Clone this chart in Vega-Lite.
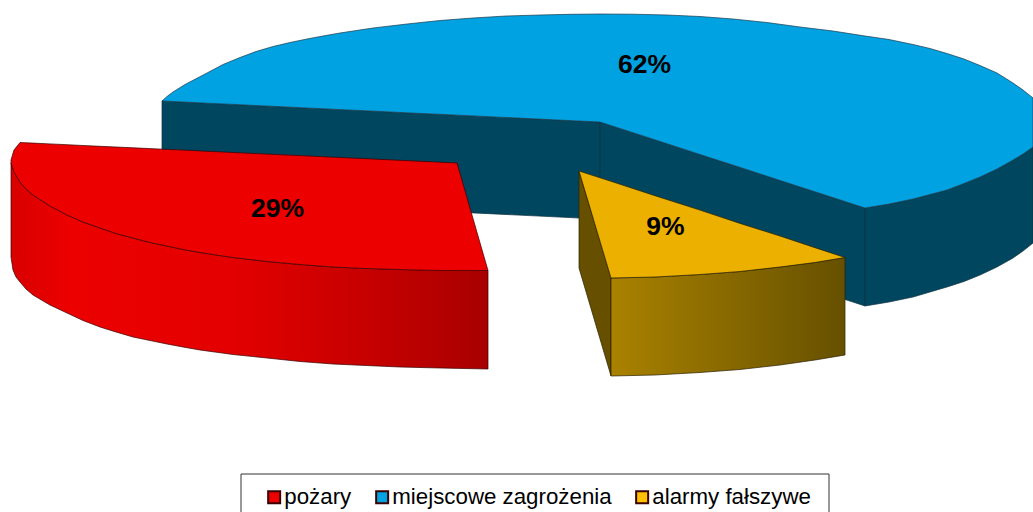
{
"$schema":"https://vega.github.io/schema/vega-lite/v6.json",
"width":1033,"height":512,"padding":0,"autosize":{"type":"none"},
"background":"white",
"config":{"view":{"stroke":null}},
"datasets":{
"faces":[
{"face":"blue_left","x":162,"y":101,"y2":198},{"face":"blue_left","x":600,"y":122,"y2":219},
{"face":"blue_mid","x":600,"y":122,"y2":219},{"face":"blue_mid","x":865,"y":208,"y2":306},
{"face":"blue_outer","x":865,"y":208,"y2":306},{"face":"blue_outer","x":889,"y":204,"y2":302},{"face":"blue_outer","x":913,"y":199,"y2":297},{"face":"blue_outer","x":930,"y":194.5,"y2":292},{"face":"blue_outer","x":947,"y":190,"y2":287},{"face":"blue_outer","x":964,"y":183.5,"y2":281.5},{"face":"blue_outer","x":980,"y":177,"y2":275},{"face":"blue_outer","x":997,"y":169,"y2":267},{"face":"blue_outer","x":1013,"y":160,"y2":258},{"face":"blue_outer","x":1023,"y":154,"y2":251},{"face":"blue_outer","x":1033,"y":147,"y2":243},
{"face":"blue_top","series":"miejscowe zagrożenia","x":162,"y":101,"y2":101},
{"face":"blue_top","series":"miejscowe zagrożenia","x":167,"y":96.5,"y2":101.2},
{"face":"blue_top","series":"miejscowe zagrożenia","x":173,"y":92,"y2":101.5},
{"face":"blue_top","series":"miejscowe zagrożenia","x":185,"y":84.5,"y2":102.1},
{"face":"blue_top","series":"miejscowe zagrożenia","x":207,"y":73,"y2":103.2},
{"face":"blue_top","series":"miejscowe zagrożenia","x":223,"y":64.5,"y2":103.9},
{"face":"blue_top","series":"miejscowe zagrożenia","x":240,"y":57.5,"y2":104.7},
{"face":"blue_top","series":"miejscowe zagrożenia","x":256,"y":51.5,"y2":105.5},
{"face":"blue_top","series":"miejscowe zagrożenia","x":273,"y":46.5,"y2":106.3},
{"face":"blue_top","series":"miejscowe zagrożenia","x":290,"y":42.5,"y2":107.1},
{"face":"blue_top","series":"miejscowe zagrożenia","x":307,"y":39,"y2":108},
{"face":"blue_top","series":"miejscowe zagrożenia","x":323,"y":36,"y2":108.7},
{"face":"blue_top","series":"miejscowe zagrożenia","x":340,"y":33,"y2":109.6},
{"face":"blue_top","series":"miejscowe zagrożenia","x":373,"y":28,"y2":111.1},
{"face":"blue_top","series":"miejscowe zagrożenia","x":407,"y":24,"y2":112.8},
{"face":"blue_top","series":"miejscowe zagrożenia","x":440,"y":20.5,"y2":114.3},
{"face":"blue_top","series":"miejscowe zagrożenia","x":473,"y":18,"y2":115.9},
{"face":"blue_top","series":"miejscowe zagrożenia","x":506,"y":16,"y2":117.5},
{"face":"blue_top","series":"miejscowe zagrożenia","x":540,"y":15,"y2":119.1},
{"face":"blue_top","series":"miejscowe zagrożenia","x":570,"y":14.3,"y2":120.6},
{"face":"blue_top","series":"miejscowe zagrożenia","x":600,"y":14,"y2":122},
{"face":"blue_top","series":"miejscowe zagrożenia","x":633,"y":14.2,"y2":132.7},
{"face":"blue_top","series":"miejscowe zagrożenia","x":667,"y":15,"y2":143.7},
{"face":"blue_top","series":"miejscowe zagrożenia","x":700,"y":16.5,"y2":154.5},
{"face":"blue_top","series":"miejscowe zagrożenia","x":733,"y":19,"y2":165.1},
{"face":"blue_top","series":"miejscowe zagrożenia","x":767,"y":22.5,"y2":176.2},
{"face":"blue_top","series":"miejscowe zagrożenia","x":800,"y":27,"y2":186.9},
{"face":"blue_top","series":"miejscowe zagrożenia","x":833,"y":31,"y2":197.6},
{"face":"blue_top","series":"miejscowe zagrożenia","x":865,"y":36,"y2":208},
{"face":"blue_top","series":"miejscowe zagrożenia","x":889,"y":39.5,"y2":204},
{"face":"blue_top","series":"miejscowe zagrożenia","x":913,"y":44.5,"y2":199},
{"face":"blue_top","series":"miejscowe zagrożenia","x":930,"y":48.5,"y2":194.5},
{"face":"blue_top","series":"miejscowe zagrożenia","x":947,"y":53.5,"y2":190},
{"face":"blue_top","series":"miejscowe zagrożenia","x":964,"y":59,"y2":183.5},
{"face":"blue_top","series":"miejscowe zagrożenia","x":980,"y":65.5,"y2":177},
{"face":"blue_top","series":"miejscowe zagrożenia","x":997,"y":73,"y2":169},
{"face":"blue_top","series":"miejscowe zagrożenia","x":1013,"y":83,"y2":160},
{"face":"blue_top","series":"miejscowe zagrożenia","x":1023,"y":90,"y2":154},
{"face":"blue_top","series":"miejscowe zagrożenia","x":1033,"y":98,"y2":147},
{"face":"red_side","x":11,"y":163,"y2":257},{"face":"red_side","x":13,"y":168,"y2":270},{"face":"red_side","x":16,"y":175,"y2":277},{"face":"red_side","x":20,"y":182,"y2":282},{"face":"red_side","x":26,"y":189,"y2":289},{"face":"red_side","x":33,"y":195,"y2":295},{"face":"red_side","x":50,"y":206,"y2":305},{"face":"red_side","x":67,"y":215,"y2":313},{"face":"red_side","x":83,"y":222,"y2":320.5},{"face":"red_side","x":100,"y":228,"y2":327},{"face":"red_side","x":116,"y":233.5,"y2":332},{"face":"red_side","x":133,"y":238,"y2":337},{"face":"red_side","x":150,"y":242.5,"y2":340.5},{"face":"red_side","x":167,"y":246,"y2":344},{"face":"red_side","x":183,"y":249.5,"y2":347},{"face":"red_side","x":200,"y":252.5,"y2":350},{"face":"red_side","x":233,"y":257.5,"y2":354.5},{"face":"red_side","x":267,"y":261.5,"y2":358},{"face":"red_side","x":300,"y":264.5,"y2":361.5},{"face":"red_side","x":333,"y":267,"y2":364},{"face":"red_side","x":366,"y":268.5,"y2":365.5},{"face":"red_side","x":400,"y":269.5,"y2":367},{"face":"red_side","x":440,"y":270.5,"y2":368},{"face":"red_side","x":488,"y":270.5,"y2":369},
{"face":"red_top","series":"pożary","x":11,"y":160,"y2":163},
{"face":"red_top","series":"pożary","x":14,"y":150,"y2":172},
{"face":"red_top","series":"pożary","x":20,"y":142.5,"y2":182},
{"face":"red_top","series":"pożary","x":26,"y":142.8,"y2":189},
{"face":"red_top","series":"pożary","x":33,"y":143.1,"y2":195},
{"face":"red_top","series":"pożary","x":50,"y":143.9,"y2":206},
{"face":"red_top","series":"pożary","x":67,"y":144.7,"y2":215},
{"face":"red_top","series":"pożary","x":83,"y":145.5,"y2":222},
{"face":"red_top","series":"pożary","x":100,"y":146.3,"y2":228},
{"face":"red_top","series":"pożary","x":116,"y":147,"y2":233.5},
{"face":"red_top","series":"pożary","x":133,"y":147.8,"y2":238},
{"face":"red_top","series":"pożary","x":150,"y":148.6,"y2":242.5},
{"face":"red_top","series":"pożary","x":167,"y":149.4,"y2":246},
{"face":"red_top","series":"pożary","x":183,"y":150.1,"y2":249.5},
{"face":"red_top","series":"pożary","x":200,"y":150.9,"y2":252.5},
{"face":"red_top","series":"pożary","x":233,"y":152.5,"y2":257.5},
{"face":"red_top","series":"pożary","x":267,"y":154.1,"y2":261.5},
{"face":"red_top","series":"pożary","x":300,"y":155.6,"y2":264.5},
{"face":"red_top","series":"pożary","x":333,"y":157.2,"y2":267},
{"face":"red_top","series":"pożary","x":366,"y":158.7,"y2":268.5},
{"face":"red_top","series":"pożary","x":400,"y":160.3,"y2":269.5},
{"face":"red_top","series":"pożary","x":440,"y":162.2,"y2":270.5},
{"face":"red_top","series":"pożary","x":457,"y":163,"y2":270.5},
{"face":"red_top","series":"pożary","x":488,"y":270.5,"y2":270.5},
{"face":"yellow_left","x":579,"y":171,"y2":268},{"face":"yellow_left","x":611,"y":278,"y2":376},
{"face":"yellow_front","x":611,"y":278,"y2":376},{"face":"yellow_front","x":655,"y":277,"y2":375},{"face":"yellow_front","x":700,"y":274.5,"y2":372.5},{"face":"yellow_front","x":740,"y":271.5,"y2":369.5},{"face":"yellow_front","x":780,"y":267,"y2":365},{"face":"yellow_front","x":815,"y":262.5,"y2":360},{"face":"yellow_front","x":845,"y":257.5,"y2":355},
{"face":"yellow_top","x":579,"y":171,"y2":171},{"face":"yellow_top","x":611,"y":181.3,"y2":278},{"face":"yellow_top","x":655,"y":195.7,"y2":277},{"face":"yellow_top","x":700,"y":210.1,"y2":274.5},{"face":"yellow_top","x":740,"y":223.4,"y2":271.5},{"face":"yellow_top","x":780,"y":236,"y2":267},{"face":"yellow_top","x":815,"y":247.7,"y2":262.5},{"face":"yellow_top","x":845,"y":257.5,"y2":257.5}
],
"labels":[
{"label":"62%","x":644.5,"y":65},{"label":"29%","x":277.5,"y":208.5},{"label":"9%","x":665.5,"y":226.5}
],
"box":[{"x":241,"x2":829,"y":474,"y2":530}]
},
"data":{"name":"faces"},
"encoding":{
"x":{"field":"x","type":"quantitative","scale":{"domain":[0,1033],"nice":false,"zero":false},"axis":null},
"y":{"field":"y","type":"quantitative","scale":{"domain":[512,0],"nice":false,"zero":false},"axis":null},
"y2":{"field":"y2"}
},
"layer":[
{"transform":[{"filter":"datum.face==='blue_left'"}],"mark":{"type":"area","fill":"#00465f","stroke":"#10303f","strokeWidth":0.7}},
{"transform":[{"filter":"datum.face==='blue_mid'"}],"mark":{"type":"area","fill":"#00465f","stroke":"#10303f","strokeWidth":0.7}},
{"transform":[{"filter":"datum.face==='blue_outer'"}],"mark":{"type":"area","fill":"#00465f","stroke":"#10303f","strokeWidth":0.7}},
{"transform":[{"filter":"datum.face==='blue_top'"}],"mark":{"type":"area","stroke":"#1a3a4a","strokeWidth":0.7},
 "encoding":{"color":{"field":"series","type":"nominal","scale":{"domain":["pożary","miejscowe zagrożenia","alarmy fałszywe"],"range":["#ec0000","#00a2e2","#ffc000"]},
 "legend":{"title":null,"orient":"none","legendX":263,"legendY":487,"direction":"horizontal","columns":3,"symbolType":"square","symbolSize":144,"symbolStrokeColor":"#000000","symbolStrokeWidth":2,"symbolOpacity":1,"symbolFillColor":null,"labelFont":"Liberation Sans","labelFontSize":22.3,"labelColor":"#000000","labelOffset":-1,"columnPadding":19,"padding":0,"labelLimit":400,"clipHeight":20}}}},
{"transform":[{"filter":"datum.face==='red_side'"}],"mark":{"type":"area","stroke":"#3a0000","strokeWidth":0.7,"fill":{"gradient":"linear","x1":0,"y1":0,"x2":1,"y2":0,"stops":[{"offset":0,"color":"#d80000"},{"offset":0.12,"color":"#ec0000"},{"offset":0.45,"color":"#e40000"},{"offset":0.75,"color":"#c60000"},{"offset":1,"color":"#a80000"}]}}},
{"transform":[{"filter":"datum.face==='red_top'"}],"mark":{"type":"area","stroke":"#3a0000","strokeWidth":0.7},"encoding":{"color":{"field":"series","type":"nominal"}}},
{"transform":[{"filter":"datum.face==='yellow_left'"}],"mark":{"type":"area","fill":"#665000","stroke":"#2a2000","strokeWidth":0.7}},
{"transform":[{"filter":"datum.face==='yellow_front'"}],"mark":{"type":"area","stroke":"#2a2000","strokeWidth":0.7,"fill":{"gradient":"linear","x1":0,"y1":0,"x2":1,"y2":0,"stops":[{"offset":0,"color":"#aa8200"},{"offset":1,"color":"#665000"}]}}},
{"transform":[{"filter":"datum.face==='yellow_top'"}],"mark":{"type":"area","fill":"#ebb000","stroke":"#2a2000","strokeWidth":0.7}},
{"data":{"name":"labels"},"mark":{"type":"text","font":"Liberation Sans","fontWeight":"bold","fontSize":26.5,"color":"#000000","align":"center","baseline":"middle"},
 "encoding":{"text":{"field":"label"},"y2":{"value":null}}},
{"data":{"name":"box"},"mark":{"type":"rect","fill":"white","stroke":"#333333","strokeWidth":1},
 "encoding":{"x2":{"field":"x2"}}}
]
}
